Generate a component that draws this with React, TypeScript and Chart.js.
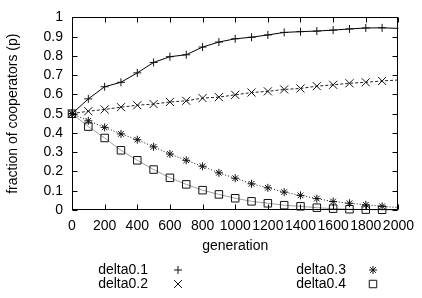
import React, { useEffect, useRef } from 'react';
import { Chart, registerables } from 'chart.js';
import { drawPoint } from 'chart.js/helpers';

Chart.register(...registerables);

const generations = [0, 100, 200, 300, 400, 500, 600, 700, 800, 900, 1000, 1100, 1200, 1300, 1400, 1500, 1600, 1700, 1800, 1900, 2000];
const delta01 = [0.5, 0.577, 0.64, 0.663, 0.712, 0.766, 0.796, 0.806, 0.846, 0.872, 0.889, 0.897, 0.909, 0.922, 0.926, 0.929, 0.934, 0.94, 0.945, 0.946, 0.943];
const delta02 = [0.5, 0.513, 0.522, 0.534, 0.544, 0.55, 0.561, 0.567, 0.581, 0.586, 0.598, 0.61, 0.616, 0.626, 0.631, 0.643, 0.65, 0.658, 0.663, 0.67, 0.675];
const delta03 = [0.5, 0.463, 0.429, 0.395, 0.365, 0.328, 0.291, 0.258, 0.227, 0.193, 0.165, 0.136, 0.115, 0.093, 0.076, 0.059, 0.044, 0.035, 0.027, 0.019, 0.013];
const delta04 = [0.5, 0.433, 0.374, 0.31, 0.258, 0.21, 0.167, 0.133, 0.103, 0.081, 0.061, 0.045, 0.035, 0.025, 0.019, 0.012, 0.007, 0.004, 0.002, 0.001, 0.001];
const seriesLabels = ['delta0.1', 'delta0.2', 'delta0.3', 'delta0.4'];
const xTitle = 'generation';
const yTitle = 'fraction of cooperators (p)';

const FONT = '"Liberation Sans", Arial, Helvetica, sans-serif';

const styles = [
  { color: '#000', dash: [] as number[], point: 'cross', radius: 4 },
  { color: '#222', dash: [3, 2], point: 'crossRot', radius: 5.7 },
  { color: '#111', dash: [1, 2], point: 'star', radius: 4 },
  { color: '#a0a0a0', dash: [] as number[], point: 'rect', radius: 5.3 },
];

const legendPos = [
  { tx: 148, mx: 178, y: 270 },
  { tx: 148, mx: 178, y: 284 },
  { tx: 346, mx: 373, y: 270 },
  { tx: 346, mx: 373, y: 284 },
];

const decor = {
  id: 'decor',
  afterDraw(chart: any) {
    const { ctx, chartArea: a, scales } = chart;
    ctx.save();
    ctx.strokeStyle = '#000';
    ctx.lineWidth = 1;
    ctx.setLineDash([]);
    const L = Math.round(a.left) + 0.5;
    const R = Math.round(a.right) - 0.5;
    const T = Math.round(a.top) + 0.5;
    const B = Math.round(a.bottom) - 0.5;
    ctx.strokeRect(L, T, R - L, B - T);
    const tl = 5;
    ctx.beginPath();
    scales.x.ticks.forEach((t: any) => {
      const px = Math.round(scales.x.getPixelForValue(t.value)) + 0.5;
      ctx.moveTo(px, B);
      ctx.lineTo(px, B - tl);
      ctx.moveTo(px, T);
      ctx.lineTo(px, T + tl);
    });
    scales.y.ticks.forEach((t: any) => {
      const py = Math.round(scales.y.getPixelForValue(t.value)) + 0.5;
      ctx.moveTo(L, py);
      ctx.lineTo(L + tl, py);
      ctx.moveTo(R, py);
      ctx.lineTo(R - tl, py);
    });
    ctx.stroke();

    ctx.fillStyle = '#000';
    ctx.font = `14px ${FONT}`;
    ctx.textAlign = 'center';
    ctx.textBaseline = 'middle';
    ctx.fillText(xTitle, (a.left + a.right) / 2, 246);
    ctx.save();
    ctx.translate(13, (a.top + a.bottom) / 2);
    ctx.rotate(-Math.PI / 2);
    ctx.fillText(yTitle, 0, 0);
    ctx.restore();

    ctx.textAlign = 'right';
    seriesLabels.forEach((lab, i) => {
      const p = legendPos[i];
      ctx.fillStyle = '#000';
      ctx.fillText(lab, p.tx, p.y);
      ctx.strokeStyle = '#111';
      ctx.fillStyle = 'rgba(0,0,0,0)';
      ctx.lineWidth = 1;
      ctx.setLineDash([]);
      drawPoint(ctx, { pointStyle: styles[i].point as any, radius: styles[i].radius, rotation: 0, borderWidth: 1 } as any, p.mx, p.y);
    });
    ctx.restore();
  },
};

export default function App() {
  const ref = useRef<HTMLCanvasElement>(null);
  useEffect(() => {
    document.body.style.margin = '0';
    const series = [delta01, delta02, delta03, delta04];
    const chart = new Chart(ref.current!, {
      type: 'line',
      data: {
        datasets: series.map((vals, i) => ({
          label: seriesLabels[i],
          data: generations.map((g, j) => ({ x: g, y: vals[j] })),
          borderColor: styles[i].color,
          borderWidth: 1,
          borderDash: styles[i].dash,
          pointStyle: styles[i].point as any,
          pointRadius: generations.map((_, j) => (j === generations.length - 1 ? 0 : styles[i].radius)),
          pointBorderColor: '#111',
          pointBackgroundColor: 'rgba(0,0,0,0)',
          pointBorderWidth: 1,
          tension: 0,
          fill: false,
          clip: false as any,
          order: 4 - i,
        })),
      },
      options: {
        responsive: false,
        animation: false,
        devicePixelRatio: 1,
        layout: { padding: { top: 12, right: 17, left: 0, bottom: 0 } },
        plugins: { legend: { display: false }, tooltip: { enabled: false } },
        scales: {
          x: {
            type: 'linear',
            min: 0,
            max: 2000,
            ticks: {
              stepSize: 200,
              autoSkip: false,
              maxRotation: 0,
              color: '#000',
              padding: 8,
              font: { family: FONT, size: 14 },
              callback: (v: any) => String(Math.round(Number(v))),
            },
            grid: { display: false, drawTicks: false },
            border: { display: false },
            afterFit(s: any) { s.height = 88; },
          },
          y: {
            type: 'linear',
            min: 0,
            max: 1,
            ticks: {
              stepSize: 0.1,
              autoSkip: false,
              color: '#000',
              padding: 9,
              font: { family: FONT, size: 14 },
              callback: (v: any) => String(Number(Number(v).toFixed(1))),
            },
            grid: { display: false, drawTicks: false },
            border: { display: false },
            afterFit(s: any) { s.width = 72; },
          },
        },
      },
      plugins: [decor],
    });
    return () => chart.destroy();
  }, []);
  return (
    <div style={{ position: 'fixed', left: 0, top: 0, width: 422, height: 298, background: '#fff' }}>
      <canvas ref={ref} width={422} height={298} />
    </div>
  );
}
